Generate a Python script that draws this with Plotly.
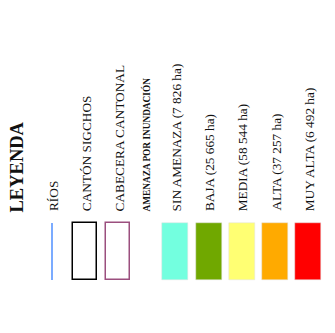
import plotly.graph_objects as go

# legend entries
title = "LEYENDA"
rios_label = "RÍOS"
outline_labels = ["CANTÓN SIGCHOS", "CABECERA CANTONAL"]
outline_colors = ["#000000", "#9B4F7E"]
heading = "AMENAZA POR INUNDACIÓN"
threat_levels = ["SIN AMENAZA", "BAJA", "MEDIA", "ALTA", "MUY ALTA"]
threat_ha = ["7 826", "25 665", "58 544", "37 257", "6 492"]
threat_colors = ["#73FFDF", "#70A800", "#FFFF73", "#FFAA00", "#FF0000"]

W, H = 335, 333
off = 8  # page body margin
step = 33.2
x_rios = 52
sw_top, sw_h, sw_w = 223, 57, 25
text_base = 213
font = "Liberation Serif"

fig = go.Figure()

# river line
fig.add_trace(go.Scatter(x=[x_rios, x_rios], y=[sw_top, sw_top + sw_h], mode="lines",
                         line=dict(color="#4F8FFF", width=1.5), hoverinfo="skip"))

# outlined boxes
xs_out = [x_rios + step * (i + 1) for i in range(len(outline_labels))]
fig.add_trace(go.Bar(x=xs_out, y=[sw_h] * len(xs_out), base=sw_top, width=sw_w - 1,
                     marker=dict(color="rgba(0,0,0,0)", line=dict(color=outline_colors, width=1.5)),
                     hoverinfo="skip"))

# threat classes
x_head = xs_out[-1] + 28
xs_thr = [x_head + 29 + step * i for i in range(len(threat_levels))]
fig.add_trace(go.Bar(x=xs_thr, y=[sw_h] * len(xs_thr), base=sw_top, width=sw_w + 1,
                     marker=dict(color=threat_colors, line=dict(color="#E0E0E0", width=0.5)),
                     hoverinfo="skip"))

def label(x, text, size=13.3, bold=False):
    fig.add_annotation(x=x, y=text_base, text=f"<b>{text}</b>" if bold else text,
                       textangle=-90, showarrow=False, xanchor="center", yanchor="bottom",
                       font=dict(family=font, size=size, color="#111111"))

fig.add_annotation(x=16, y=text_base + 2, text=f"<b>{title}</b>", textangle=-90, showarrow=False,
                   xanchor="center", yanchor="bottom", font=dict(family=font, size=18.5, color="#111111"))
label(x_rios + 1, rios_label)
for x, t in zip(xs_out, outline_labels):
    label(x + 1, t)
label(x_head, heading, size=9.3, bold=True)
for x, t, ha in zip(xs_thr, threat_levels, threat_ha):
    label(x + 1, f"{t} ({ha} ha)")

hidden = dict(showgrid=False, zeroline=False, showline=False, showticklabels=False,
              ticks="", fixedrange=True)
fig.update_layout(width=W, height=H, margin=dict(l=0, r=0, t=0, b=0),
                  plot_bgcolor="white", paper_bgcolor="white", showlegend=False, bargap=0,
                  xaxis=dict(range=[off, W + off], **hidden),
                  yaxis=dict(range=[H + off, off], **hidden))
fig.write_html("out.html")
